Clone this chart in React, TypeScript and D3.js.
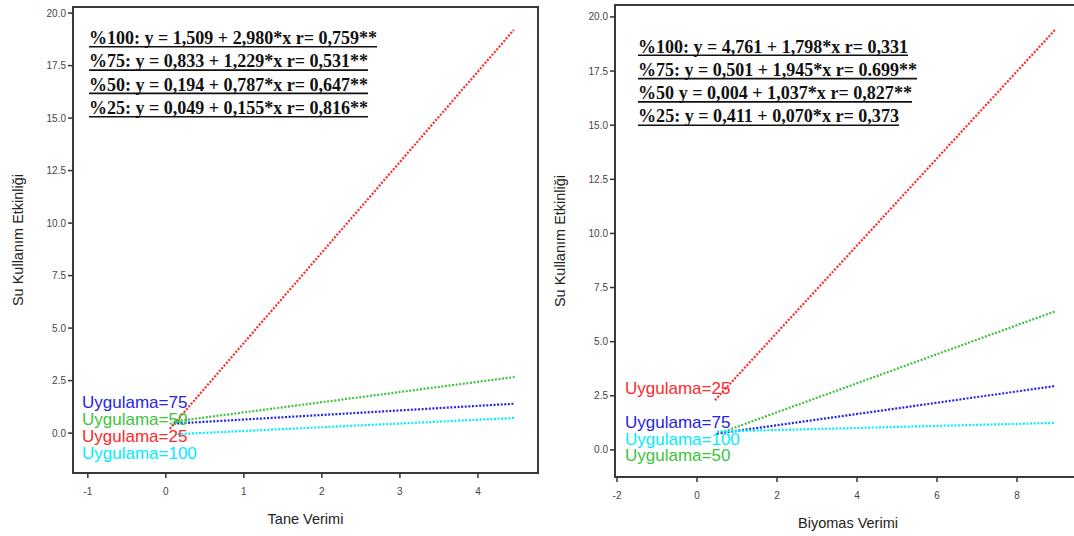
import React from "react";
import * as d3 from "d3";

const series = ["Uygulama=25", "Uygulama=50", "Uygulama=75", "Uygulama=100"];
const seriesColors = ["#ff2a2a", "#3cc43c", "#2424e6", "#00eeff"];

// Tane Verimi panel: start / end of each fitted line
const taneStartX = [0.05, 0.1, 0.1, 0.15];
const taneStartY = [0.2, 0.55, 0.45, -0.05];
const taneEndX = [4.46, 4.47, 4.47, 4.47];
const taneEndY = [19.2, 2.67, 1.4, 0.72];
const taneLabelY = [-0.14, 0.67, 1.48, -0.95];
const taneXTicks = [-1, 0, 1, 2, 3, 4];
const taneEquations = [
  "%100: y = 1,509 + 2,980*x r= 0,759**",
  "%75: y = 0,833 + 1,229*x r= 0,531**",
  "%50: y = 0,194 + 0,787*x r= 0,647**",
  "%25: y = 0,049 + 0,155*x r= 0,816**",
];

// Biyomas Verimi panel
const biyomasStartX = [0.45, 0.6, 0.5, 0.5];
const biyomasStartY = [2.3, 0.8, 0.75, 0.85];
const biyomasEndX = [8.95, 8.95, 8.95, 8.95];
const biyomasEndY = [19.4, 6.4, 2.95, 1.25];
const biyomasLabelY = [2.86, -0.23, 1.29, 0.51];
const biyomasXTicks = [-2, 0, 2, 4, 6, 8];
const biyomasEquations = [
  "%100: y = 4,761 + 1,798*x r= 0,331",
  "%75: y = 0,501 + 1,945*x r= 0.699**",
  "%50 y = 0,004 + 1,037*x r= 0,827**",
  "%25: y = 0,411 + 0,070*x r= 0,373",
];

const yTicks = [0, 2.5, 5, 7.5, 10, 12.5, 15, 17.5, 20];
const yTitle = "Su Kullanım Etkinliği";

type PanelProps = {
  box: [number, number, number, number];
  xDomain: [number, number];
  yDomain: [number, number];
  xTicks: number[];
  startX: number[];
  startY: number[];
  endX: number[];
  endY: number[];
  labelY: number[];
  labelX: number;
  equations: string[];
  eqX: number;
  eqTop: number;
  eqWidths: number[];
  xTitle: string;
  yTitleX: number;
};

const sans = "'Liberation Sans', Arial, sans-serif";

const Panel = (p: PanelProps) => {
  const [left, top, right, bottom] = p.box;
  const x = d3.scaleLinear().domain(p.xDomain).range([left, right]);
  const y = d3.scaleLinear().domain(p.yDomain).range([bottom, top]);
  const line = d3.line<[number, number]>().x(d => x(d[0])).y(d => y(d[1]));
  const fmt = d3.format(".1f");

  return (
    <g>
      <rect x={left} y={top} width={right - left} height={bottom - top}
        fill="#fff" stroke="#3a3a3a" strokeWidth={2} />
      {yTicks.map(t => (
        <g key={"y" + t}>
          <line x1={left - 5} x2={left} y1={y(t)} y2={y(t)} stroke="#333" strokeWidth={1.5} />
          <text x={left - 7} y={y(t)} dy="0.35em" textAnchor="end"
            fontFamily={sans} fontSize={10} fill="#444">{fmt(t)}</text>
        </g>
      ))}
      {p.xTicks.map(t => (
        <g key={"x" + t}>
          <line x1={x(t)} x2={x(t)} y1={bottom} y2={bottom + 5} stroke="#333" strokeWidth={1.5} />
          <text x={x(t)} y={bottom + 22} textAnchor="middle"
            fontFamily={sans} fontSize={10} fill="#444">{t}</text>
        </g>
      ))}
      <text x={(left + right) / 2} y={bottom + 51} textAnchor="middle"
        fontFamily={sans} fontSize={14.5} fill="#222">{p.xTitle}</text>
      <text transform={`translate(${p.yTitleX},${(top + bottom) / 2}) rotate(-90)`}
        textAnchor="middle" dy="0.35em" fontFamily={sans} fontSize={14.5} fill="#222">{yTitle}</text>

      {series.map((s, i) => (
        <path key={s}
          d={line([[p.startX[i], p.startY[i]], [p.endX[i], p.endY[i]]]) || ""}
          fill="none" stroke={seriesColors[i]} strokeWidth={2.2} strokeDasharray="2 1.6" />
      ))}
      {series.map((s, i) => (
        <text key={"l" + s} x={p.labelX} y={y(p.labelY[i])} dy="0.36em"
          fontFamily={sans} fontSize={17} fill={seriesColors[i]}>{s}</text>
      ))}

      {p.equations.map((e, i) => {
        const base = p.eqTop + i * 23.3;
        return (
          <g key={"e" + i}>
            <text x={p.eqX} y={base} fontFamily="'Liberation Serif', 'Times New Roman', serif"
              fontWeight="bold" fontSize={19} fill="#111"
              textLength={p.eqWidths[i]} lengthAdjust="spacingAndGlyphs">{e}</text>
            <line x1={p.eqX} x2={p.eqX + p.eqWidths[i]} y1={base + 2.8} y2={base + 2.8}
              stroke="#111" strokeWidth={1.6} />
          </g>
        );
      })}
    </g>
  );
};

export default function App() {
  return (
    <svg width={1074} height={536} viewBox="0 0 1074 536"
      style={{ position: "absolute", left: 0, top: 0, background: "#fff" }}>
      <Panel box={[73, 7, 538, 473]} xDomain={[-1.19, 4.77]} yDomain={[-1.9, 20.29]}
        xTicks={taneXTicks} startX={taneStartX} startY={taneStartY} endX={taneEndX} endY={taneEndY}
        labelY={taneLabelY} labelX={82} equations={taneEquations} eqX={89} eqTop={44}
        eqWidths={[288, 279, 279, 279]} xTitle="Tane Verimi" yTitleX={18} />
      <Panel box={[615, 5, 1081, 477]} xDomain={[-2.05, 9.6]} yDomain={[-1.25, 20.55]}
        xTicks={biyomasXTicks} startX={biyomasStartX} startY={biyomasStartY} endX={biyomasEndX} endY={biyomasEndY}
        labelY={biyomasLabelY} labelX={625} equations={biyomasEquations} eqX={638} eqTop={52.5}
        eqWidths={[270, 279, 274, 261]} xTitle="Biyomas Verimi" yTitleX={560} />
    </svg>
  );
}
